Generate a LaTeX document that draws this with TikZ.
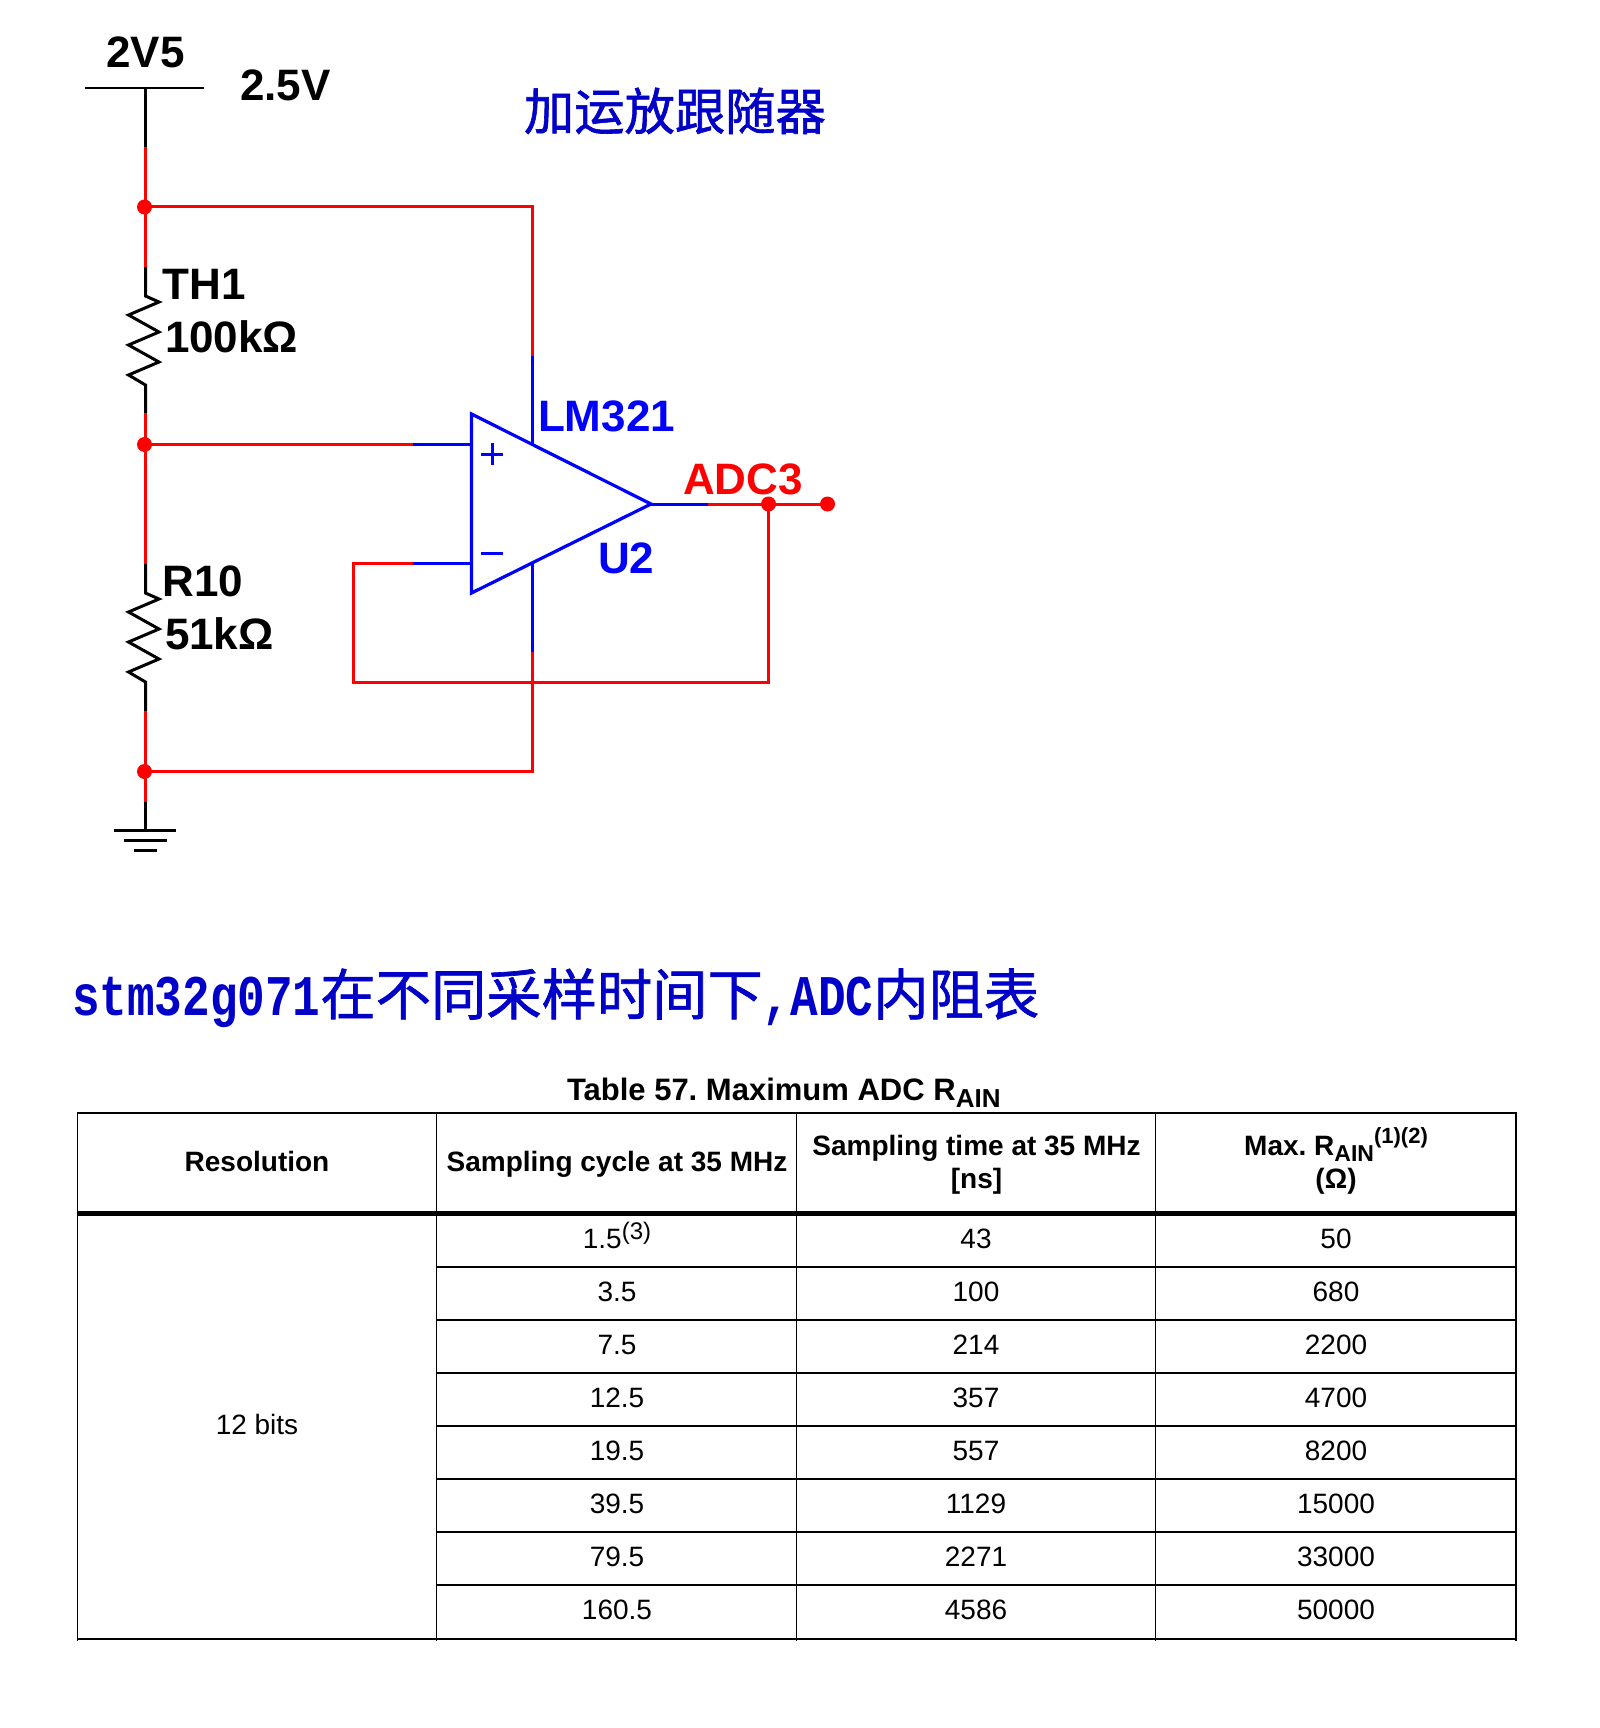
\documentclass[tikz,border=0pt]{standalone}
\usepackage{fontspec}
\setmainfont{Liberation Sans}
\newfontfamily\tallmono[FakeStretch=0.8]{Liberation Mono}
\newfontfamily\cjk{Noto Sans CJK SC}
\newfontfamily\cjkfat[FakeBold=1.2]{Noto Sans CJK SC}
\usetikzlibrary{calc}
\definecolor{wred}{RGB}{255,0,0}
\definecolor{wblue}{RGB}{0,0,255}
\definecolor{ttlblue}{RGB}{0,0,200}
\newcommand{\szpx}[1]{\fontsize{#1}{#1}\selectfont}
\frenchspacing
\tikzset{
  x=1pt,y=-1pt,
  txt/.style={inner sep=0pt,outer sep=0pt,anchor=base},
  txtl/.style={inner sep=0pt,outer sep=0pt,anchor=base west},
  cir/.style={txtl,font=\bfseries\szpx{44}},
  hd/.style={txt,font=\bfseries\szpx{28},align=center},
  cell/.style={txt,font=\szpx{28}},
  blk/.style={draw=black,line width=3pt},
  rw/.style={draw=wred,line width=3pt},
  bw/.style={draw=wblue,line width=3pt},
  jn/.style={circle,fill=wred,draw=none,minimum size=15pt,inner sep=0pt},
  grid/.style={draw=black,line width=1.6pt,line cap=rect},
  heavy/.style={draw=black,line width=5pt},
}
\begin{document}
\begin{tikzpicture}
\useasboundingbox (0,0) rectangle (1599,1728);
% coordinates
\coordinate (railL) at (85,88); \coordinate (railR) at (204,88);
\coordinate (top) at (145.5,88); \coordinate (tBR) at (145.5,147);
\coordinate (t1) at (145.5,267); \coordinate (t2) at (145.5,296);
\coordinate (t3) at (145.5,385); \coordinate (t4) at (145.5,413);
\coordinate (r1) at (145.5,564); \coordinate (r2) at (145.5,593);
\coordinate (r3) at (145.5,682); \coordinate (r4) at (145.5,711);
\coordinate (g1) at (145.5,802); \coordinate (g2) at (145.5,830);
\coordinate (A) at (471.5,414); \coordinate (B) at (471.5,593); \coordinate (C) at (651,504);
\coordinate (inP) at (471.5,444.5); \coordinate (inM) at (471.5,563.5);
\coordinate (inPb) at (413,444.5); \coordinate (inMb) at (413,563.5);
\coordinate (vTop) at (532,444); \coordinate (vTopB) at (532,356); \coordinate (vTopC) at (532,207);
\coordinate (vBot) at (532,563); \coordinate (vBotB) at (532,652); \coordinate (vBotC) at (532,771.5);
\coordinate (outB) at (708,504);
\coordinate (fbA) at (353.5,563.5); \coordinate (fbB) at (353.5,682.5); \coordinate (fbC) at (768.5,682.5);
% junctions
\node[jn] (J1) at (144.5,207) {};
\node[jn] (J2) at (144.5,444.5) {};
\node[jn] (J3) at (144.5,771.5) {};
\node[jn] (J4) at (768.5,504) {};
\node[jn] (J5) at (827.5,504) {};
% supply
\draw[draw=black,line width=1.3pt] (railL) -- (railR);
\draw[blk] (top) -- (tBR);
\draw[rw] (tBR) -- (t1);
\draw[blk,line join=miter] (t1) -- (t2) -- ++(13.5,6) -- ++(-30.5,13) -- ++(30.5,17) -- ++(-30.5,13) -- ++(30.5,17) -- ++(-30.5,13) -- (t3) -- (t4);
\draw[rw] (t4) -- (r1);
\draw[blk,line join=miter] (r1) -- (r2) -- ++(13.5,6) -- ++(-30.5,13) -- ++(30.5,17) -- ++(-30.5,13) -- ++(30.5,17) -- ++(-30.5,13) -- (r3) -- (r4);
\draw[rw] (r4) -- (g1);
\draw[blk] (g1) -- (g2);
% ground
\draw[blk] (114,830) -- (176,830);
\draw[blk] (124,840) -- (167,840);
\draw[blk] (134,850) -- (157,850);
% red wires
\draw[rw,line join=miter] (J1.center) -- (vTopC) -- (vTopB);
\draw[rw] (J2.center) -- (inPb);
\draw[rw,line join=miter] (inMb) -- (fbA) -- (fbB) -- (fbC) -- (J4.center);
\draw[rw] (outB) -- (J5.center);
\draw[rw,line join=miter] (vBotB) -- (vBotC) -- (J3.center);
% blue wires
\draw[bw] (vTopB) -- (vTop);
\draw[bw] (inPb) -- (inP);
\draw[bw] (inMb) -- (inM);
\draw[bw] (vBot) -- (vBotB);
\draw[bw] (C) -- (outB);
\draw[draw=wblue,line width=3.2pt,line join=miter] (A) -- (C) -- (B) -- cycle;
\draw[draw=wblue,line width=3pt] (481,454) -- (503,454) (492,443) -- (492,465);
\draw[draw=wblue,line width=3pt] (481,553) -- (503,553);
% circuit labels
\node[cir] (l2v5) at (106.5,68) {2V5};
\node[cir] (l25) at (240,101) {2.5V};
\node[cir] (lth) at (162.5,299) {TH1};
\node[cir] (l100) at (165,352) {100kΩ};
\node[cir] (lr10) at (162.5,596) {R10};
\node[cir] (l51) at (165,649) {51kΩ};
\node[cir,text=wblue] (lm) at (538,431) {LM321};
\node[cir,text=wred] (adc) at (683,494) {ADC3};
\node[cir,text=wblue] (u2) at (598,573) {U2};
% titles
\node[txtl,font=\cjkfat\szpx{50.3},text=ttlblue] (t1a) at (524,130) {加运放跟随器};
\node[txtl,text=ttlblue] (t2a) at (72,1015) {{\tallmono\bfseries\szpx{57.5}stm32g071}{\cjkfat\szpx{55.3}在不同采样时间下}{\tallmono\bfseries\szpx{57.5},ADC}{\cjkfat\szpx{55.3}内阻表}};
% table title
\node[txtl,font=\bfseries\szpx{31}] (tt) at (567,1100) {Table 57. Maximum ADC R\raisebox{-7pt}{\szpx{26}AIN}};
% table grid
\draw[grid] (77.5,1113) -- (1516,1113);
\foreach \yy in {1267,1320,1373,1426,1479,1532,1585} \draw[grid] (436.5,\yy) -- (1516,\yy);
\draw[grid] (77.5,1639) -- (1516,1639);
\foreach \xx in {77.5,436.5,796.5,1155.5,1516} \draw[grid] (\xx,1113) -- (\xx,1640);
\draw[heavy] (77.5,1213) -- (1516,1213);
% header
\node[hd] (h1) at (257,1171) {Resolution};
\node[hd] (h2) at (617,1171) {Sampling cycle at 35 MHz};
\node[hd] (h3a) at (976.5,1155) {Sampling time at 35 MHz};
\node[hd] (h3b) at (976.5,1188) {[ns]};
\node[hd] (h4a) at (1336,1155) {Max. R\raisebox{-6pt}{\szpx{23}AIN}\raisebox{12pt}{\szpx{22}(1)(2)}};
\node[hd] (h4b) at (1336,1188) {(Ω)};
\node[cell] (res) at (257,1434) {12 bits};
% rows
\node[cell] (c11) at (617,1248) {1.5\raisebox{9pt}{\szpx{24}(3)}};
\node[cell] (c12) at (976,1248) {43};
\node[cell] (c13) at (1336,1248) {50};
\foreach \n/\a/\b/\c/\yy in {2/3.5/100/680/1301,3/7.5/214/2200/1354,4/12.5/357/4700/1407,5/19.5/557/8200/1460,6/39.5/1129/15000/1513,7/79.5/2271/33000/1566,8/160.5/4586/50000/1619}{
  \node[cell] (a\n) at (617,\yy) {\a};
  \node[cell] (b\n) at (976,\yy) {\b};
  \node[cell] (c\n) at (1336,\yy) {\c};
}
\end{tikzpicture}
\end{document}
